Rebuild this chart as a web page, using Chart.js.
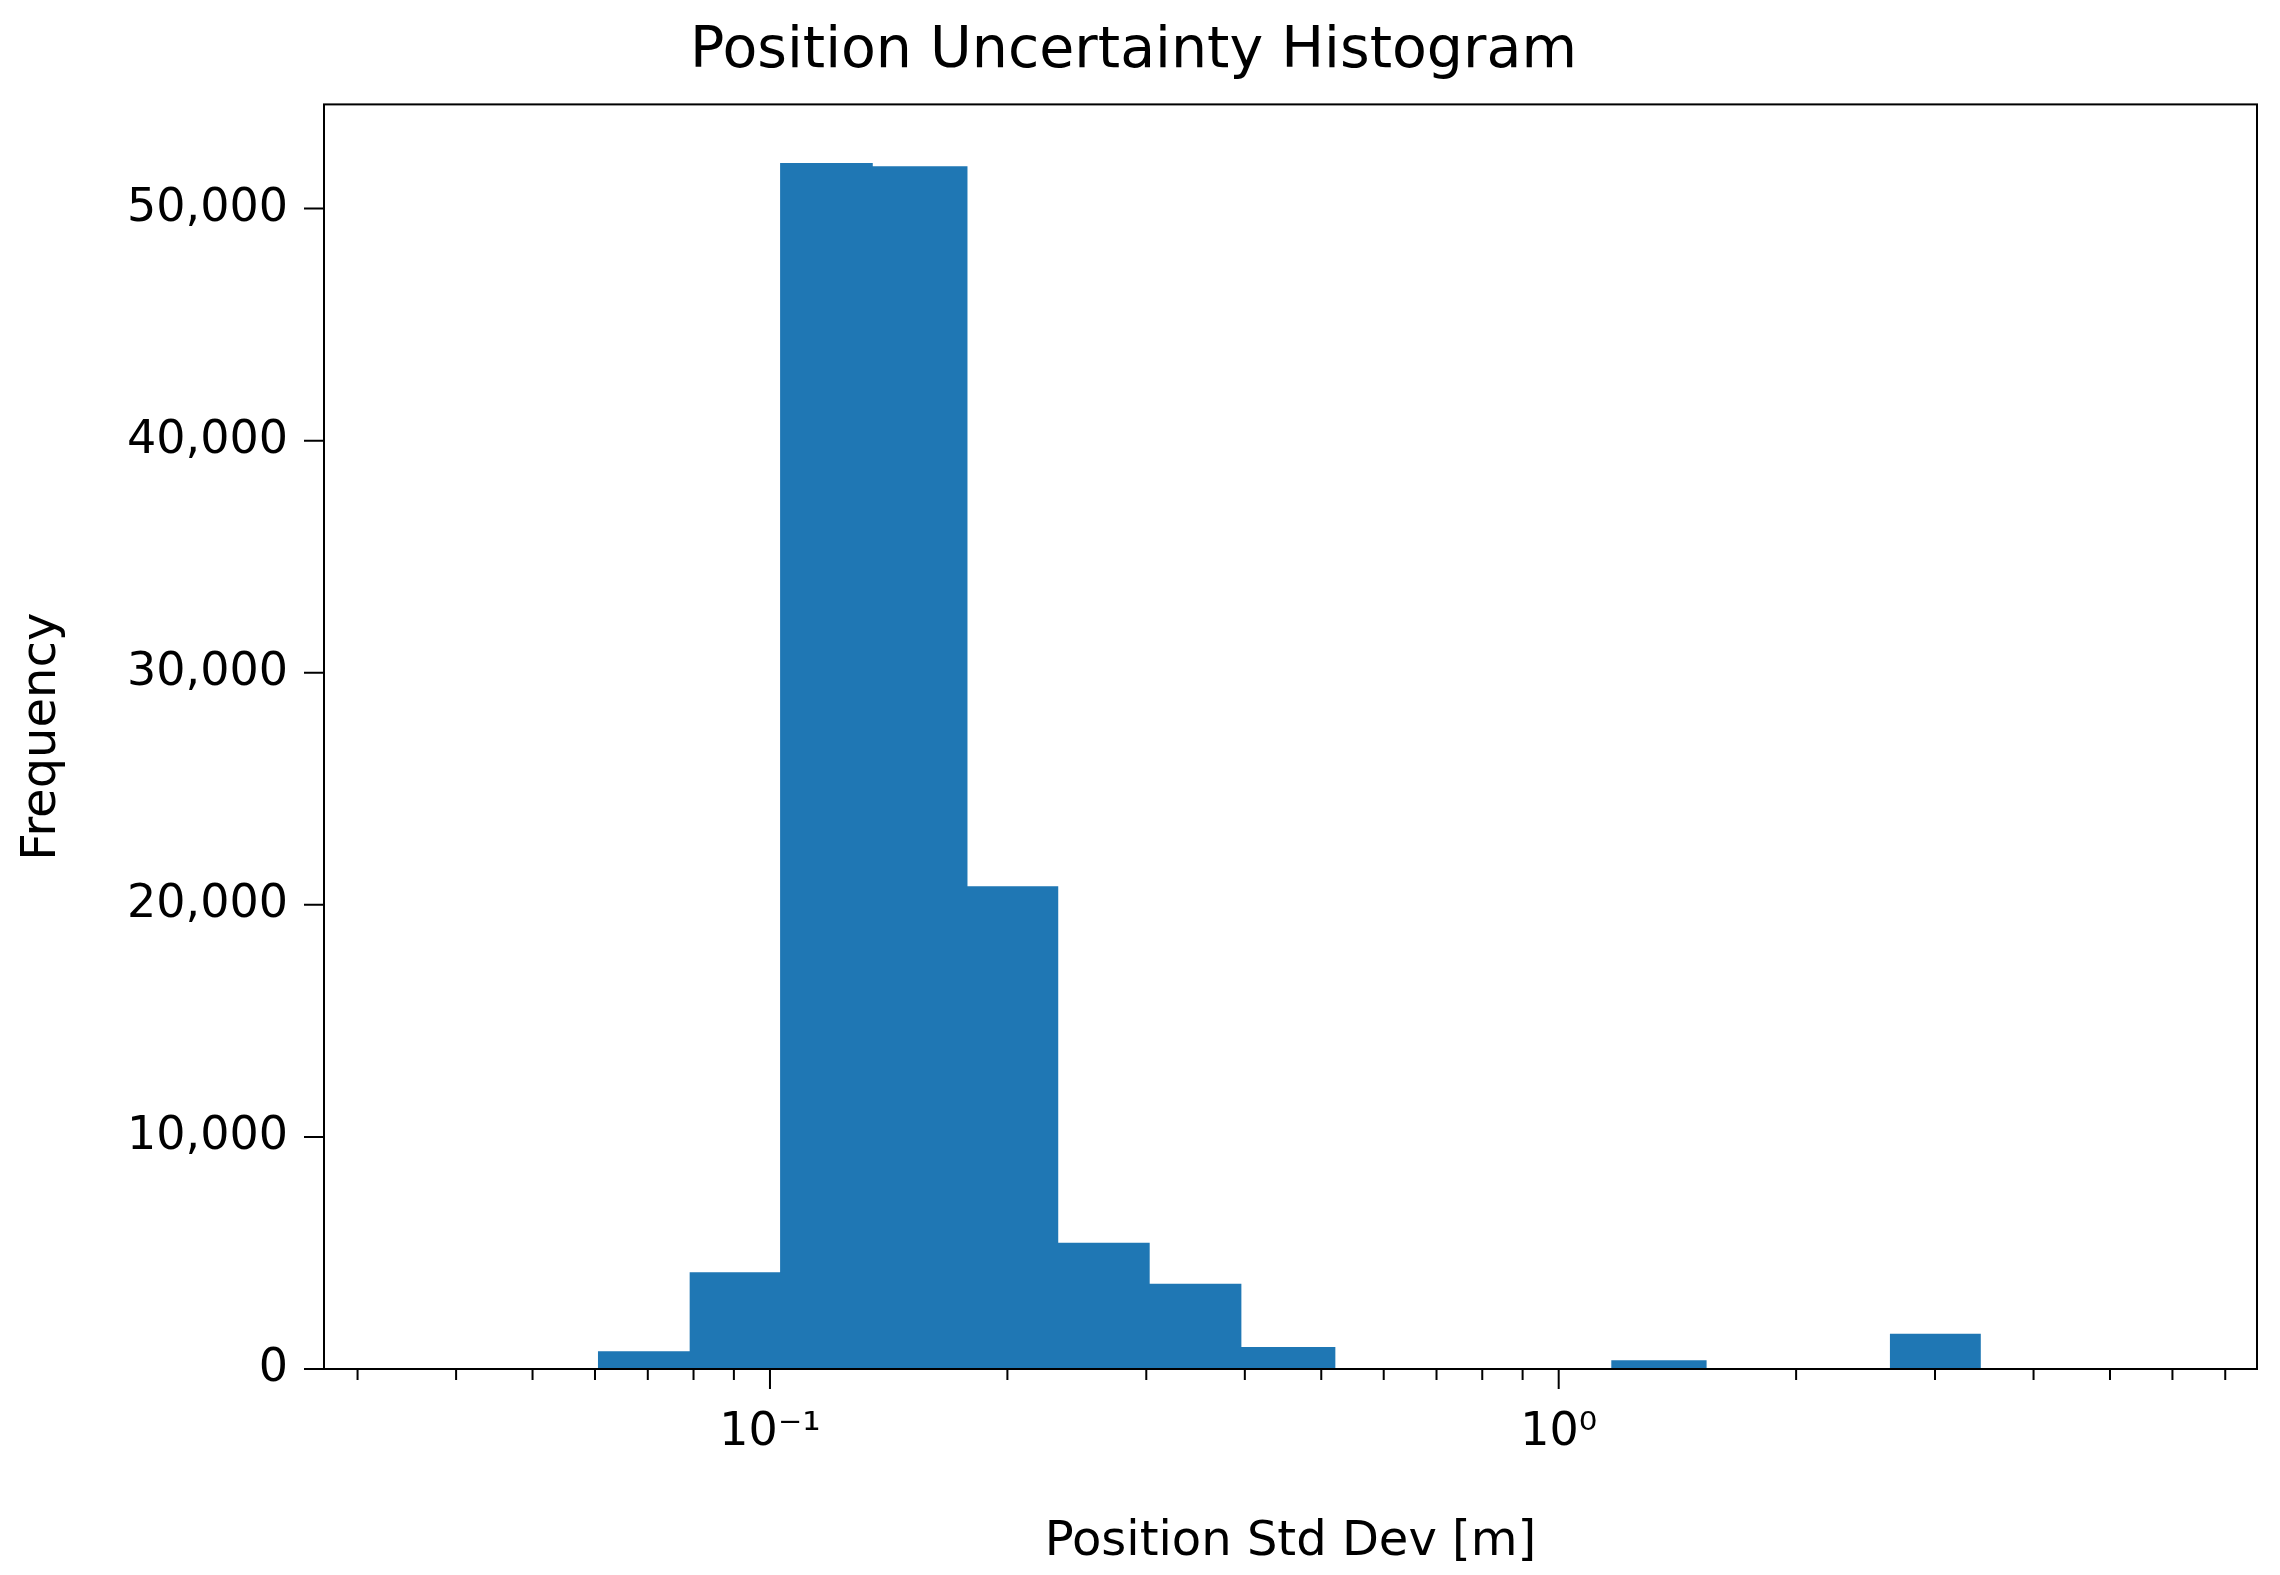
<!DOCTYPE html>
<html>
<head>
<meta charset="utf-8">
<script src="https://cdn.jsdelivr.net/npm/chart.js@4/dist/chart.umd.min.js"></script>
<style>
  body { margin: 0; background: #fff; }
</style>
</head>
<body>
<canvas id="hist" width="2280" height="1575"></canvas>
<script>
// histogram bins (log-spaced edges, metres) and counts
const binLow = [0.0605, 0.0791, 0.103, 0.135, 0.178, 0.232, 0.303, 0.396, 1.166, 2.63];
const binHigh = [0.0791, 0.103, 0.135, 0.178, 0.232, 0.303, 0.396, 0.521, 1.54, 3.43];
const counts = [760, 4170, 51960, 51830, 20800, 5440, 3670, 950, 380, 1520];
const majorTicks = [0.1, 1];
const majorLabels = ['10\u207B\u00B9', '10\u2070'];
const minorTicks = [0.03, 0.04, 0.05, 0.06, 0.07, 0.08, 0.09, 0.2, 0.3, 0.4, 0.5, 0.6, 0.7, 0.8, 0.9, 2, 3, 4, 5, 6, 7];
const yTicks = [0, 10000, 20000, 30000, 40000, 50000];

const FONT = 'DejaVu Sans';
const BLUE = '#1f77b4';

// outline of the histogram as points so the log x scale places the bars
const outline = [];
binLow.forEach((lo, i) => {
    outline.push({ x: lo, y: 0 }, { x: lo, y: counts[i] }, { x: binHigh[i], y: counts[i] }, { x: binHigh[i], y: 0 });
});

const tickPlugin = {
    id: 'ticks',
    afterDraw(chart) {
        const ctx = chart.ctx;
        const area = chart.chartArea;
        const xs = chart.scales.x;
        const ys = chart.scales.y;
        ctx.save();
        ctx.strokeStyle = '#000';
        ctx.lineWidth = 2;
        ctx.strokeRect(area.left, area.top, area.right - area.left, area.bottom - area.top);
        ctx.beginPath();
        majorTicks.forEach(v => {
            const px = xs.getPixelForValue(v);
            ctx.moveTo(px, area.bottom); ctx.lineTo(px, area.bottom + 20);
        });
        minorTicks.forEach(v => {
            const px = xs.getPixelForValue(v);
            ctx.moveTo(px, area.bottom); ctx.lineTo(px, area.bottom + 11);
        });
        yTicks.forEach(v => {
            const py = ys.getPixelForValue(v);
            ctx.moveTo(area.left, py); ctx.lineTo(area.left - 20, py);
        });
        ctx.stroke();
        ctx.restore();
    }
};

new Chart(document.getElementById('hist'), {
    type: 'line',
    data: {
        datasets: [{
            data: outline,
            borderWidth: 0,
            borderColor: BLUE,
            backgroundColor: BLUE,
            fill: 'origin',
            pointRadius: 0,
            tension: 0
        }]
    },
    options: {
        responsive: false,
        devicePixelRatio: 1,
        animation: false,
        layout: { padding: { left: 10, right: 23, top: 0, bottom: 0 } },
        plugins: {
            legend: { display: false },
            tooltip: { enabled: false },
            title: {
                display: true,
                text: 'Position Uncertainty Histogram',
                color: '#000',
                font: { family: FONT, size: 57, weight: 'normal' },
                padding: { top: 18, bottom: 18 }
            }
        },
        scales: {
            x: {
                type: 'logarithmic',
                min: 0.0272,
                max: 7.68,
                afterBuildTicks: s => { s.ticks = majorTicks.map(v => ({ value: v })); },
                afterFit: s => { s.height = 206; },
                ticks: {
                    autoSkip: false,
                    maxRotation: 0,
                    padding: 28,
                    color: '#000',
                    font: { family: FONT, size: 46 },
                    callback: (v) => majorLabels[majorTicks.indexOf(v)]
                },
                grid: { display: false },
                border: { display: false },
                title: {
                    display: true,
                    text: 'Position Std Dev [m]',
                    color: '#000',
                    font: { family: FONT, size: 48 },
                    padding: { top: 4 }
                }
            },
            y: {
                min: 0,
                max: 54490,
                afterBuildTicks: s => { s.ticks = yTicks.map(v => ({ value: v })); },
                afterFit: s => { s.width = 314; },
                ticks: {
                    padding: 28,
                    color: '#000',
                    font: { family: FONT, size: 46 },
                    callback: v => v.toLocaleString('en-US')
                },
                grid: { display: false },
                border: { display: false },
                title: {
                    display: true,
                    text: 'Frequency',
                    color: '#000',
                    font: { family: FONT, size: 48 },
                    padding: { bottom: 0 }
                }
            }
        }
    },
    plugins: [tickPlugin]
});
</script>
</body>
</html>
